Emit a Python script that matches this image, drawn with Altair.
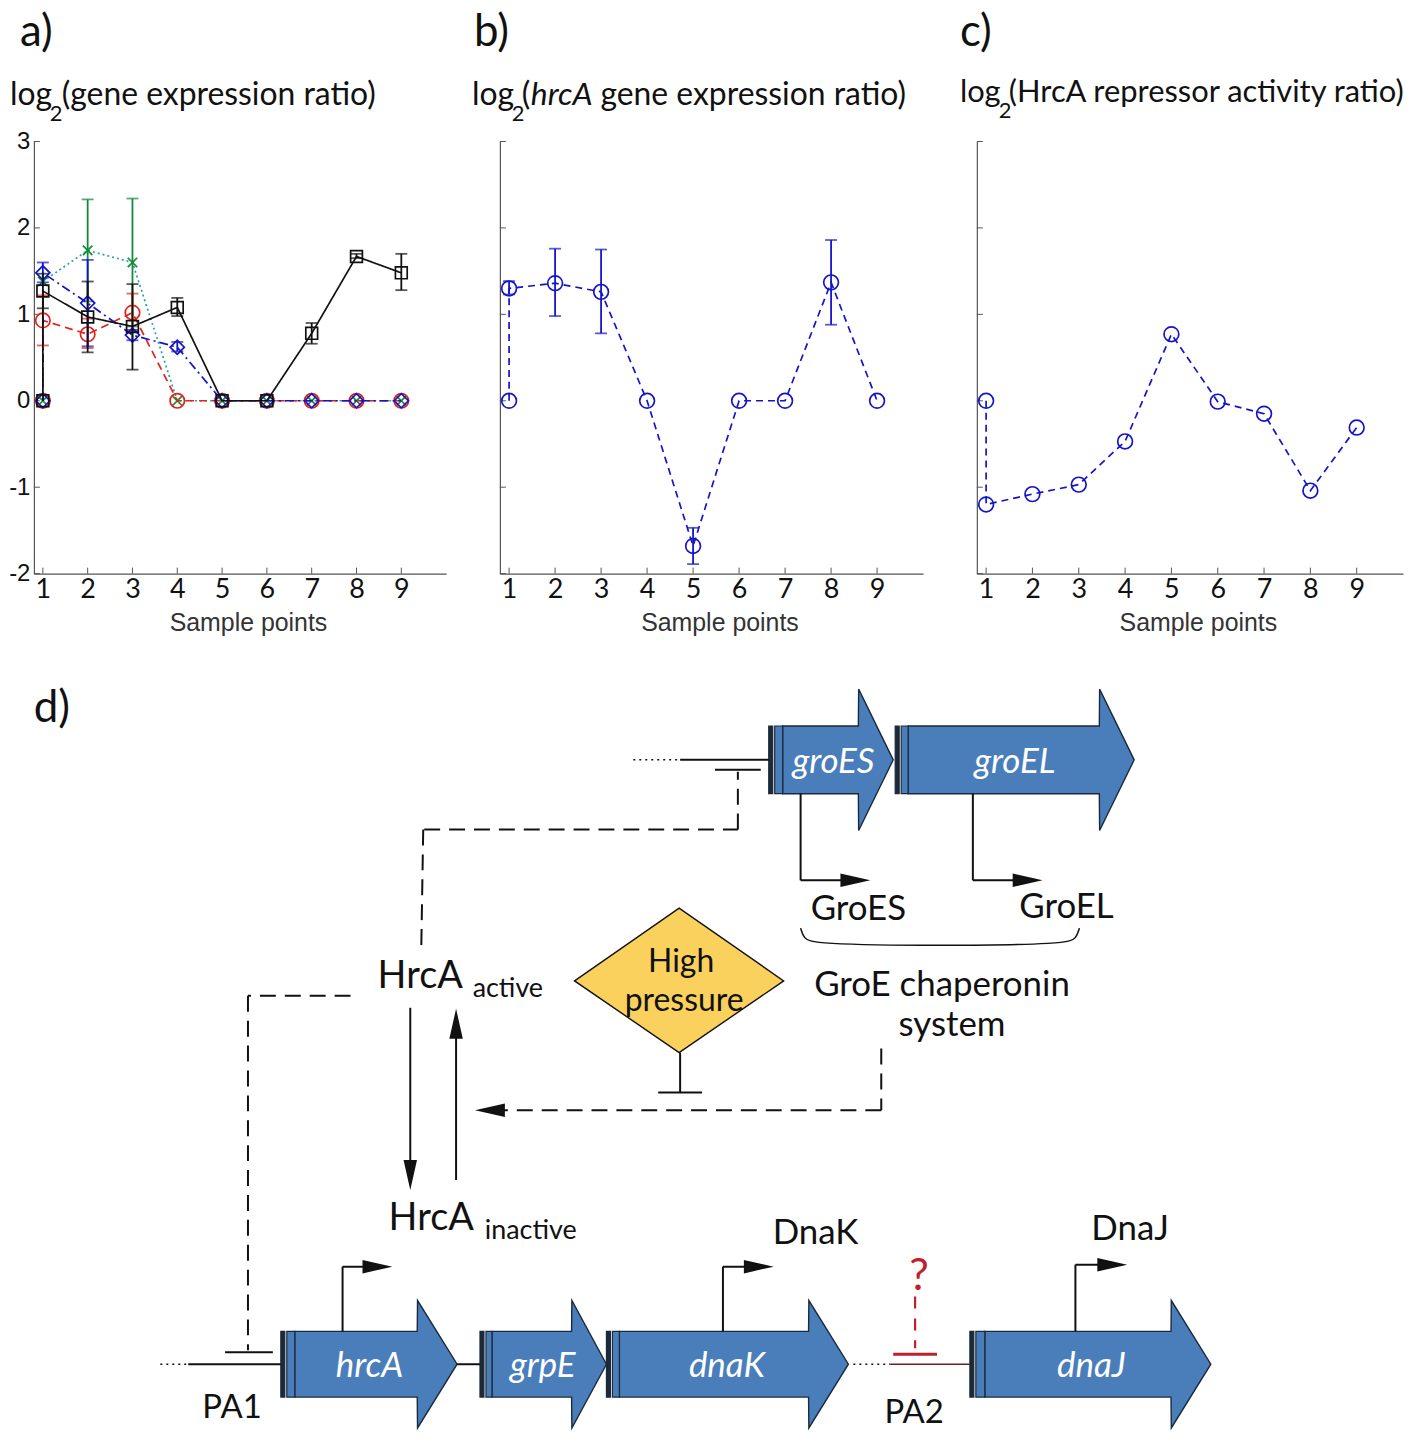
import altair as alt
import pandas as pd

FONT = "Lato"
NUM_FONT = "Liberation Sans"

# ---------------- data: panels a-c ----------------
sample_x = [1, 1, 2, 3, 4, 5, 6, 7, 8, 9]
x_ticks = [1, 2, 3, 4, 5, 6, 7, 8, 9]
y_ticks = [-2, -1, 0, 1, 2, 3]

a_black = [0, 1.27, 0.97, 0.86, 1.08, 0, 0, 0.78, 1.67, 1.48]
a_red = [0, 0.93, 0.77, 1.02, 0, 0, 0, 0, 0, 0]
a_blue = [0, 1.48, 1.13, 0.76, 0.62, 0, 0, 0, 0, 0]
a_green = [0, 1.38, 1.74, 1.60, 0, 0, 0, 0, 0, 0]

a_black_err_x = [1, 2, 3, 4, 7, 8, 9]
a_black_err_lo = [1.07, 0.56, 0.36, 0.98, 0.66, 1.65, 1.28]
a_black_err_hi = [1.47, 1.38, 1.35, 1.19, 0.90, 1.70, 1.70]
a_red_err_x = [1, 2, 3]
a_red_err_lo = [0.64, 0.61, 0.80]
a_red_err_hi = [1.22, 0.95, 1.24]
a_blue_err_x = [1, 2, 3, 4]
a_blue_err_lo = [1.37, 0.63, 0.70, 0.57]
a_blue_err_hi = [1.60, 1.63, 0.82, 0.68]
a_green_err_x = [2, 3]
a_green_err_lo = [1.15, 0.86]
a_green_err_hi = [2.33, 2.34]

b_y = [0, 1.30, 1.36, 1.26, 0, -1.68, 0, 0, 1.37, 0]
b_err_x = [1, 2, 3, 5, 8]
b_err_lo = [1.23, 0.98, 0.78, -1.89, 0.88]
b_err_hi = [1.385, 1.76, 1.75, -1.47, 1.86]

c_y = [0, -1.20, -1.08, -0.97, -0.47, 0.77, -0.01, -0.15, -1.04, -0.31]

BLUE = "#1414C8"
RED = "#E2231A"
GREEN = "#138A36"
TEAL = "#2AA3A3"
BLACK = "#111111"
X_SHAPE = "M-1,-1L1,1M-1,1L1,-1"

H = 434


def X(field, W):
    return alt.X(f"{field}:Q",
                 scale=alt.Scale(domain=[0.8, 10], nice=False, zero=False),
                 axis=alt.Axis(values=x_ticks, title="Sample points", tickSize=0, grid=False,
                               labelFont=FONT, labelFontSize=27, labelColor=BLACK, labelPadding=3,
                               labelOverlap=False, labelFlush=False,
                               domainColor="#555", domainWidth=1.2,
                               titleFont=NUM_FONT, titleFontSize=25, titleFontWeight="normal",
                               titleColor="#333", titlePadding=8, titleX=W / 2 + 8))


def Y(field, show):
    return alt.Y(f"{field}:Q",
                 scale=alt.Scale(domain=[-2, 3], nice=False, zero=False),
                 axis=alt.Axis(values=y_ticks, title=None, tickSize=0, grid=False, labels=show,
                               labelExpr="'' + datum.value",
                               labelFont=NUM_FONT, labelFontSize=24, labelColor=BLACK,
                               labelPadding=4, domainColor="#555", domainWidth=1.2))


def panel(series, W, show_ylab, letter, title_parts):
    layers = []
    # inward ticks (MATLAB style)
    layers.append(alt.Chart(pd.DataFrame({"x": x_ticks})).mark_rule(color="#555", strokeWidth=1).encode(
        x=X("x", W), y=alt.value(H), y2=alt.value(H - 6)))
    layers.append(alt.Chart(pd.DataFrame({"y": y_ticks})).mark_rule(color="#555", strokeWidth=1).encode(
        y=Y("y", show_ylab), x=alt.value(0), x2=alt.value(6)))
    for s in series:
        df = pd.DataFrame({"x": sample_x, "y": s["y"], "i": list(range(len(sample_x)))})
        layers.append(alt.Chart(df).mark_line(color=s["line"], strokeDash=s["dash"], strokeWidth=1.7).encode(
            x=X("x", W), y=Y("y", show_ylab), order="i:Q"))
        if s.get("ex"):
            de = pd.DataFrame({"x": s["ex"], "lo": s["lo"], "hi": s["hi"]})
            layers.append(alt.Chart(de).mark_rule(color=s["color"], strokeWidth=1.8).encode(
                x=X("x", W), y=Y("lo", show_ylab), y2="hi:Q"))
            for f in ("lo", "hi"):
                layers.append(alt.Chart(de).mark_tick(orient="horizontal", size=12, thickness=1.8,
                                                      color=s["color"]).encode(
                    x=X("x", W), y=Y(f, show_ylab)))
        layers.append(alt.Chart(df).mark_point(shape=s["shape"], filled=False, color=s["color"],
                                               size=s["size"], strokeWidth=1.7, opacity=1).encode(
            x=X("x", W), y=Y("y", show_ylab)))
    # panel letter and title
    layers.append(alt.Chart(pd.DataFrame({"t": [letter[0]]})).mark_text(
        font=FONT, fontSize=44, align="left", baseline="alphabetic", color=BLACK).encode(
        text="t:N", x=alt.value(letter[1]), y=alt.value(-96)))
    for txt, dx, dy, fs, style in title_parts:
        layers.append(alt.Chart(pd.DataFrame({"t": [txt]})).mark_text(
            font=FONT, fontSize=fs, fontStyle=style, align="left", baseline="alphabetic",
            color=BLACK).encode(text="t:N", x=alt.value(dx), y=alt.value(dy)))
    return alt.layer(*layers).properties(width=W, height=H)


panel_a = panel([
    dict(y=a_green, color=GREEN, line=TEAL, dash=[2, 3], shape=X_SHAPE, size=90,
         ex=a_green_err_x, lo=a_green_err_lo, hi=a_green_err_hi),
    dict(y=a_red, color=RED, line=RED, dash=[8, 5], shape="circle", size=210,
         ex=a_red_err_x, lo=a_red_err_lo, hi=a_red_err_hi),
    dict(y=a_blue, color=BLUE, line=BLUE, dash=[9, 4, 2, 4], shape="diamond", size=200,
         ex=a_blue_err_x, lo=a_blue_err_lo, hi=a_blue_err_hi),
    dict(y=a_black, color=BLACK, line=BLACK, dash=[1, 0], shape="square", size=140,
         ex=a_black_err_x, lo=a_black_err_lo, hi=a_black_err_hi),
], 414, True, ("a)", -14), [
    ("log", -24, -37, 32, "normal"),
    ("2", 16, -21, 22, "normal"),
    ("(gene expression ratio)", 28, -37, 32, "normal"),
])

panel_b = panel([
    dict(y=b_y, color=BLUE, line=BLUE, dash=[7, 5], shape="circle", size=220,
         ex=b_err_x, lo=b_err_lo, hi=b_err_hi),
], 425, False, ("b)", -26), [
    ("log", -28, -37, 32, "normal"),
    ("2", 12, -21, 22, "normal"),
    ("(", 22, -37, 32, "normal"),
    ("hrcA", 31, -37, 32, "italic"),
    ("gene expression ratio)", 101, -37, 32, "normal"),
])

panel_c = panel([
    dict(y=c_y, color=BLUE, line=BLUE, dash=[7, 5], shape="circle", size=220),
], 428, False, ("c)", -17), [
    ("log", -17, -40, 31, "normal"),
    ("2", 22, -24, 22, "normal"),
    ("(HrcA repressor activity ratio)", 32, -40, 31, "normal"),
])

top_row = alt.hconcat(panel_a, panel_b, panel_c, spacing=54, bounds="flush")

# ---------------- data: panel d (diagram, page-pixel coordinates) ----------------
DX = [30, 1407]
DY = [576, 1434]
DW = DX[1] - DX[0]
DH = DY[1] - DY[0]

gene_names = ["groES", "groEL", "hrcA", "grpE", "dnaK", "dnaJ"]
gene_stripe = [768, 895, 278, 478, 605, 970]
gene_body = [782, 908, 292, 490, 618, 985]
gene_head = [858, 1100, 415, 570, 808, 1172]
gene_tip = [893, 1135, 455, 605, 848, 1212]
gene_yc = [763, 763, 1370, 1370, 1370, 1370]
gene_body_half = [34, 34, 33, 33, 33, 33]
gene_head_half = [71, 71, 64, 64, 64, 64]
gene_label_x = [833, 1015, 367, 541, 726, 1092]

label_text = ["d)", "GroES", "GroEL", "GroE chaperonin", "system", "High", "pressure",
              "HrcA", "active", "HrcA", "inactive", "DnaK", "DnaJ", "PA1", "PA2"]
label_x = [48, 858, 1067, 942, 952, 680, 683, 418, 506, 429, 529, 815, 1131, 229, 914]
label_y = [712, 913, 911, 989, 1029, 966, 1005, 981, 993, 1224, 1236, 1238, 1234, 1414, 1419]
label_size = [44, 35, 35, 35, 35, 32, 32, 38, 27, 38, 27, 35, 35, 33, 33]

solid_x = [679, 714, 800, 800, 973, 973, 679, 657, 408, 454, 185, 222, 455, 340, 340, 722, 722, 1076, 1076]
solid_y = [763, 773, 797, 884, 797, 884, 1057, 1097, 1012, 1185, 1370, 1358, 1370, 1337, 1272, 1337, 1272, 1337, 1270]
solid_x2 = [768, 760, 800, 855, 973, 1028, 679, 701, 408, 454, 278, 270, 478, 340, 375, 722, 758, 1076, 1113]
solid_y2 = [763, 773, 884, 884, 884, 884, 1097, 1097, 1180, 1028, 1370, 1358, 1370, 1272, 1272, 1272, 1272, 1270, 1270]

dash_x = [422, 737, 421, 348, 245, 881, 881]
dash_y = [833, 833, 833, 1000, 1000, 1053, 1115]
dash_x2 = [737, 737, 419, 245, 245, 881, 490]
dash_y2 = [833, 775, 955, 1000, 1356, 1115, 1115]

dot_x = [632, 157, 853]
dot_y = [763, 1370, 1370]
dot_x2 = [676, 185, 890]
dot_y2 = [763, 1370, 1370]

pa2_x, pa2_y, pa2_x2, pa2_y2 = [890], [1370], [970], [1370]

red_dash_x, red_dash_y, red_dash_x2, red_dash_y2 = [915], [1302], [915], [1354]
red_bar_x, red_bar_y, red_bar_x2, red_bar_y2 = [893], [1360], [937], [1360]
question_x, question_y = [919], [1282]

head_x = [855, 1028, 375, 758, 1113, 488, 408, 454]
head_y = [884, 884, 1272, 1272, 1270, 1115, 1180, 1028]
head_angle = [0, 0, 0, 0, 0, 180, 90, 270]

brace_x = [800, 803, 812, 940, 1068, 1077, 1080]
brace_y = [932, 942, 948, 950, 948, 942, 932]

diamond_x = [573, 678, 783]
diamond_y = [985, 912, 985]
diamond_y2 = [985, 1057, 985]

GENE_FILL = "#4A7EBB"
GENE_LINE = "#1B2A3A"
YELLOW = "#FAD15C"
DARK_RED = "#C0202A"


def dx(f):
    return alt.X(f"{f}:Q", scale=alt.Scale(domain=DX, nice=False, zero=False), axis=None)


def dy(f):
    return alt.Y(f"{f}:Q", scale=alt.Scale(domain=DY, nice=False, zero=False, reverse=True),
                 axis=None, stack=None)


# gene arrow outlines (one area per gene)
arrow_charts = []
for k, g in enumerate(gene_names):
    yc, bh, hh = gene_yc[k], gene_body_half[k], gene_head_half[k]
    adf = pd.DataFrame({
        "x": [gene_body[k], gene_head[k], gene_head[k] + 0.3, gene_tip[k]],
        "y": [yc - bh, yc - bh, yc - hh, yc],
        "y2": [yc + bh, yc + bh, yc + hh, yc],
    })
    arrow_charts.append(alt.Chart(adf).mark_area(
        fill=GENE_FILL, stroke=GENE_LINE, strokeWidth=1.4, opacity=1, interpolate="linear").encode(
        x=dx("x"), y=dy("y"), y2="y2:Q"))

stripe_rows = []
for k, g in enumerate(gene_names):
    yc, bh = gene_yc[k], gene_body_half[k]
    stripe_rows.append({"x": gene_stripe[k], "x2": gene_stripe[k] + 4, "y": yc - bh, "y2": yc + bh, "c": GENE_LINE})
    stripe_rows.append({"x": gene_stripe[k] + 6, "x2": gene_body[k], "y": yc - bh, "y2": yc + bh, "c": GENE_FILL})
stripe_df = pd.DataFrame(stripe_rows)


def segs(xs, ys, x2s, y2s):
    return pd.DataFrame({"x": xs, "y": ys, "x2": x2s, "y2": y2s})


d_layers = arrow_charts + [
    alt.Chart(stripe_df).mark_rect(stroke=GENE_LINE, strokeWidth=1.2).encode(
        x=dx("x"), x2="x2:Q", y=dy("y"), y2="y2:Q", fill=alt.Fill("c:N", scale=None)),
    alt.Chart(pd.DataFrame({"x": diamond_x, "y": diamond_y, "y2": diamond_y2})).mark_area(
        fill=YELLOW, stroke=BLACK, strokeWidth=1.4, opacity=1).encode(x=dx("x"), y=dy("y"), y2="y2:Q"),
    alt.Chart(segs(solid_x, solid_y, solid_x2, solid_y2)).mark_rule(color=BLACK, strokeWidth=2).encode(
        x=dx("x"), y=dy("y"), x2="x2:Q", y2="y2:Q"),
    alt.Chart(segs(dash_x, dash_y, dash_x2, dash_y2)).mark_rule(color=BLACK, strokeWidth=2,
                                                                strokeDash=[16, 9]).encode(
        x=dx("x"), y=dy("y"), x2="x2:Q", y2="y2:Q"),
    alt.Chart(segs(dot_x, dot_y, dot_x2, dot_y2)).mark_rule(color=BLACK, strokeWidth=1.5,
                                                            strokeDash=[2, 4]).encode(
        x=dx("x"), y=dy("y"), x2="x2:Q", y2="y2:Q"),
    alt.Chart(segs(pa2_x, pa2_y, pa2_x2, pa2_y2)).mark_rule(color="#6a2020", strokeWidth=1.6).encode(
        x=dx("x"), y=dy("y"), x2="x2:Q", y2="y2:Q"),
    alt.Chart(segs(red_dash_x, red_dash_y, red_dash_x2, red_dash_y2)).mark_rule(
        color=DARK_RED, strokeWidth=2.2, strokeDash=[12, 10]).encode(
        x=dx("x"), y=dy("y"), x2="x2:Q", y2="y2:Q"),
    alt.Chart(segs(red_bar_x, red_bar_y, red_bar_x2, red_bar_y2)).mark_rule(
        color=DARK_RED, strokeWidth=3).encode(x=dx("x"), y=dy("y"), x2="x2:Q", y2="y2:Q"),
    alt.Chart(pd.DataFrame({"x": brace_x, "y": brace_y, "i": list(range(len(brace_x)))})).mark_line(
        color=BLACK, strokeWidth=1.5, interpolate="basis").encode(x=dx("x"), y=dy("y"), order="i:Q"),
    alt.Chart(pd.DataFrame({"x": head_x, "y": head_y, "a": head_angle})).mark_point(
        shape="M-1,-0.45L1,0L-1,0.45Z", filled=True, color=BLACK, size=900, opacity=1).encode(
        x=dx("x"), y=dy("y"), angle=alt.Angle("a:Q", scale=None)),
    alt.Chart(pd.DataFrame({"x": label_x, "y": label_y, "t": label_text, "s": label_size})).mark_text(
        font=FONT, color=BLACK, align="center", baseline="middle").encode(
        x=dx("x"), y=dy("y"), text="t:N", size=alt.Size("s:Q", scale=None)),
    alt.Chart(pd.DataFrame({"x": gene_label_x, "y": [v + 2 for v in gene_yc], "t": gene_names})).mark_text(
        font=FONT, fontStyle="italic", fontSize=35, color="white", align="center", baseline="middle").encode(
        x=dx("x"), y=dy("y"), text="t:N"),
    alt.Chart(pd.DataFrame({"x": question_x, "y": question_y, "t": ["?"]})).mark_text(
        font=FONT, fontSize=44, color=DARK_RED, align="center", baseline="middle").encode(
        x=dx("x"), y=dy("y"), text="t:N"),
]
panel_d = alt.layer(*d_layers).properties(width=DW, height=DH)

chart = alt.vconcat(top_row, panel_d, spacing=H, bounds="flush").properties(
    padding=0
).configure_view(stroke=None)

chart.save("out.html", embed_options={"renderer": "svg", "actions": False})
